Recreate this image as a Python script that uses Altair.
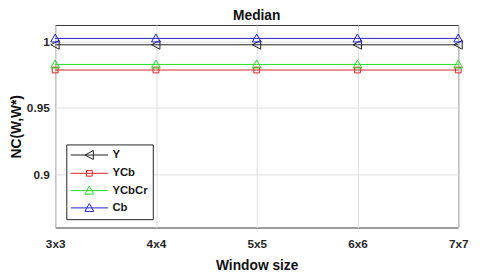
import altair as alt
import pandas as pd

categories = ["3x3", "4x4", "5x5", "6x6", "7x7"]
series_names = ["Y", "YCb", "YCbCr", "Cb"]
y_vals = [0.9976, 0.9976, 0.9976, 0.9976, 0.9976]
ycb_vals = [0.9786, 0.9786, 0.9786, 0.9786, 0.9786]
ycbcr_vals = [0.9828, 0.9828, 0.9828, 0.9828, 0.9828]
cb_vals = [1.0024, 1.0024, 1.0024, 1.0024, 1.0024]
y_ticks = [0.9, 0.95, 1.0]

colors = ["#202020", "#e02020", "#22dd22", "#2020d0"]

rows = []
for name, vals in zip(series_names, [y_vals, ycb_vals, ycbcr_vals, cb_vals]):
    for c, v in zip(categories, vals):
        rows.append({"series": name, "window": c, "nc": v})
df = pd.DataFrame(rows)

tri_left = "M-1,0L0.9,-1L0.9,1Z"
square = "M-0.65,-0.65H0.65V0.65H-0.65Z"
tri_up = "M0,-1L1,0.8L-1,0.8Z"
ext = "M-4.2,0H4.2"
legend_paths = [ext + tri_left, ext + square, ext + tri_up, ext + tri_up]

FONT = "Liberation Sans"
MSIZE = 81

x_enc = alt.X("window:O", scale=alt.Scale(domain=categories, padding=0),
              axis=alt.Axis(title="Window size", labelAngle=0, ticks=False, domain=False,
                            labelPadding=11, titlePadding=10, grid=True))
y_enc = alt.Y("nc:Q", scale=alt.Scale(domain=[0.86, 1.0125], nice=False, zero=False),
              axis=alt.Axis(title="NC(W,W*)", values=y_ticks, format="~g", ticks=False,
                            domain=False, labelPadding=6, titlePadding=3, grid=True))
color_nolegend = alt.Color("series:N", scale=alt.Scale(domain=series_names, range=colors), legend=None)

base = alt.Chart(df)

lines = base.mark_line(strokeWidth=1).encode(x=x_enc, y=y_enc, color=color_nolegend,
                                             detail="series:N")

shape_for = {"Y": tri_left, "YCb": square, "YCbCr": tri_up, "Cb": tri_up}
point_layers = []
for name in series_names:
    point_layers.append(
        base.transform_filter(alt.datum.series == name)
        .mark_point(shape=shape_for[name], size=MSIZE, filled=False, strokeWidth=1, opacity=1)
        .encode(x=x_enc, y=y_enc, color=color_nolegend)
    )

leg = alt.Legend(title=None, orient="none", legendX=11.3, legendY=121.5,
                 padding=5, symbolOffset=12.7, labelOffset=17.7,
                 rowPadding=4.6, strokeColor="#222222", fillColor="white",
                 symbolSize=MSIZE, symbolStrokeWidth=1,
                 labelFont=FONT, labelFontSize=11.5, labelFontWeight="bold",
                 labelColor="#1a1a1a")

legend_layer = base.transform_filter("false").mark_point(
    size=MSIZE, filled=False, strokeWidth=1, opacity=1
).encode(
    x=x_enc, y=y_enc,
    color=alt.Color("series:N", scale=alt.Scale(domain=series_names, range=colors), legend=leg),
    shape=alt.Shape("series:N", scale=alt.Scale(domain=series_names, range=legend_paths), legend=leg),
)

chart = alt.layer(legend_layer, lines, *point_layers).properties(
    width=410, height=206,
    title=alt.TitleParams("Median", fontSize=14, fontWeight="bold", font=FONT,
                          offset=2, anchor="middle", color="#111111"),
    autosize=alt.AutoSizeParams(type="none"),
    padding={"left": 48, "top": 15, "right": 14, "bottom": 45},
).configure(
    background="white"
).configure_view(
    stroke="#333333", strokeWidth=1
).configure_axis(
    labelFont=FONT, labelFontSize=12, labelFontWeight="bold", labelColor="#262626",
    titleFont=FONT, titleFontSize=14, titleFontWeight="bold", titleColor="#111111",
    gridColor="#dedede", gridWidth=1,
)

chart.save("out.html", embed_options={"renderer": "svg", "actions": False})
